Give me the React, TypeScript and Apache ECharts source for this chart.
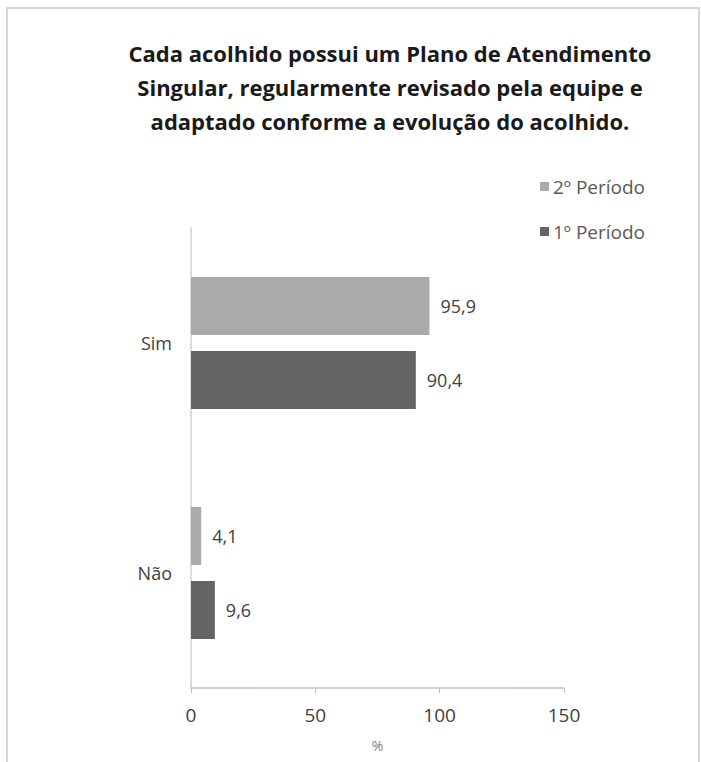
import React, { useEffect, useRef } from "react";
import * as echarts from "echarts";

const titleText =
  "Cada acolhido possui um Plano de Atendimento\nSingular, regularmente revisado pela equipe e\nadaptado conforme a evolução do acolhido.";
const categories = ["Não", "Sim"];
const seriesNames = ["2º Período", "1º Período"];
const period2 = [4.1, 95.9];
const period1 = [9.6, 90.4];
const xTicks = [0, 50, 100, 150];
const axisName = "%";

const COLORS = ["#aaaaaa", "#646464"];
const FONT = "'Open Sans', sans-serif";

export default function App() {
  const ref = useRef<HTMLDivElement>(null);
  useEffect(() => {
    if (!ref.current) return;
    const chart = echarts.init(ref.current, undefined, { renderer: "svg" });
    const fmt = (p: any) => Number(p.value).toFixed(1).replace(".", ",");
    const labelCfg = {
      show: true,
      position: "right",
      distance: 11,
      color: "#404040",
      fontSize: 18,
      fontFamily: FONT,
      formatter: fmt,
    };
    chart.setOption({
      animation: false,
      backgroundColor: "#ffffff",
      title: {
        text: titleText,
        left: 385,
        textAlign: "center",
        top: 31,
        textStyle: {
          fontFamily: FONT,
          fontWeight: "bold",
          fontSize: 22,
          lineHeight: 34,
          color: "#1a1a1a",
        },
      },
      legend: {
        data: [seriesNames[0], seriesNames[1]],
        orient: "vertical",
        left: 535,
        top: 172,
        itemWidth: 9,
        itemHeight: 9,
        itemGap: 26,
        icon: "rect",
        textStyle: { fontFamily: FONT, fontSize: 19, color: "#595959", padding: [0, 0, 0, -1] },
      },
      graphic: [
        {
          type: "rect",
          shape: { x: 7, y: 8, width: 692, height: 770 },
          style: { fill: "none", stroke: "#d6d6d6", lineWidth: 2 },
          silent: true,
        },
      ],
      grid: { left: 191, right: 137, top: 228, bottom: 74 },
      xAxis: {
        type: "value",
        min: xTicks[0],
        max: xTicks[xTicks.length - 1],
        interval: 50,
        name: axisName,
        nameLocation: "middle",
        nameGap: 50,
        nameTextStyle: { fontFamily: FONT, fontSize: 14, color: "#7f7f7f" },
        axisLine: { show: true, lineStyle: { color: "#bfbfbf", width: 1.5 } },
        axisTick: { show: true, length: 5, lineStyle: { color: "#bfbfbf" } },
        axisLabel: {
          margin: 17,
          fontFamily: FONT,
          fontSize: 19,
          color: "#404040",
        },
        splitLine: { show: false },
      },
      yAxis: {
        type: "category",
        data: categories,
        axisLine: { show: true, lineStyle: { color: "#d0d0d0", width: 1.5 } },
        axisTick: { show: false },
        axisLabel: {
          margin: 19,
          fontFamily: FONT,
          fontSize: 18,
          color: "#404040",
        },
      },
      series: [
        {
          name: seriesNames[0],
          type: "bar",
          data: period2,
          itemStyle: { color: COLORS[0] },
          barWidth: 58,
          barGap: "28%",
          label: labelCfg,
        },
        {
          name: seriesNames[1],
          type: "bar",
          data: period1,
          itemStyle: { color: COLORS[1] },
          barWidth: 58,
          barGap: "28%",
          label: labelCfg,
        },
      ],
    });
    return () => chart.dispose();
  }, []);
  return (
    <div
      ref={ref}
      style={{ position: "absolute", left: 0, top: 0, width: 701, height: 762 }}
    />
  );
}
